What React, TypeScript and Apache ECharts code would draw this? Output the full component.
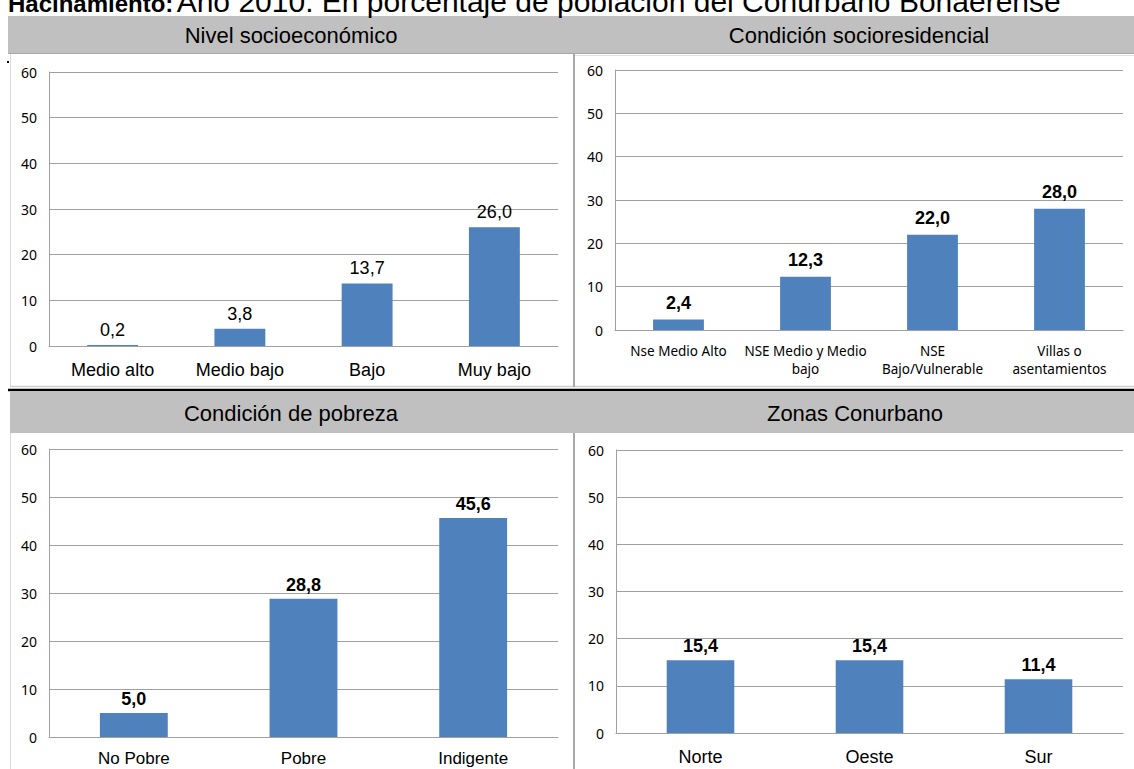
import React, { useEffect, useRef } from "react";
import * as echarts from "echarts";

const titleBold = "Hacinamiento:";
const titleRest = " Año 2010. En porcentaje de población del Conurbano Bonaerense";

const panelTitles = [
  "Nivel socioeconómico",
  "Condición socioresidencial",
  "Condición de pobreza",
  "Zonas Conurbano",
];

const nivelCategories = ["Medio alto", "Medio bajo", "Bajo", "Muy bajo"];
const nivelValues = [0.2, 3.8, 13.7, 26.0];

const residCategories = [
  "Nse Medio Alto",
  "NSE Medio y Medio\nbajo",
  "NSE\nBajo/Vulnerable",
  "Villas o\nasentamientos",
];
const residValues = [2.4, 12.3, 22.0, 28.0];

const pobrezaCategories = ["No Pobre", "Pobre", "Indigente"];
const pobrezaValues = [5.0, 28.8, 45.6];

const zonasCategories = ["Norte", "Oeste", "Sur"];
const zonasValues = [15.4, 15.4, 11.4];

const yMin = 0;
const yMax = 60;
const yStep = 10;

const BAR = "#4f81bd";
const GRID = "#a0a0a0";
const HEADER_BG = "#c0c0c0";

const fmt = (v: number) => v.toFixed(1).replace(".", ",");

export default function App() {
  const ref = useRef<HTMLDivElement>(null);

  useEffect(() => {
    if (!ref.current) return;
    const chart = echarts.init(ref.current, null, { renderer: "svg" });

    const grids = [
      { left: 49, top: 72, width: 509, height: 274 },
      { left: 615, top: 70, width: 508, height: 260 },
      { left: 49, top: 449, width: 509, height: 288 },
      { left: 616, top: 450, width: 507, height: 283 },
    ];

    const cats = [nivelCategories, residCategories, pobrezaCategories, zonasCategories];
    const vals = [nivelValues, residValues, pobrezaValues, zonasValues];
    const catFont = [
      { fontFamily: "Liberation Sans, Arial", fontSize: 18, margin: 14, lineHeight: 20 },
      { fontFamily: "Noto Sans", fontSize: 13.5, margin: 12, lineHeight: 18 },
      { fontFamily: "Liberation Sans, Arial", fontSize: 17, margin: 12, lineHeight: 19 },
      { fontFamily: "Liberation Sans, Arial", fontSize: 18, margin: 14, lineHeight: 20 },
    ];
    const valLabel = [
      { fontWeight: "normal", distance: 6 },
      { fontWeight: "bold", distance: 8 },
      { fontWeight: "bold", distance: 5 },
      { fontWeight: "bold", distance: 5 },
    ];

    const graphic: any[] = [
      // header bands
      { type: "rect", shape: { x: 8, y: 16, width: 1126, height: 37 }, style: { fill: HEADER_BG } },
      { type: "line", shape: { x1: 8, y1: 53.5, x2: 1134, y2: 53.5 }, style: { stroke: "#a8a8a8", lineWidth: 1 } },
      { type: "rect", shape: { x: 10, y: 392, width: 1124, height: 41 }, style: { fill: HEADER_BG } },
      // title (partially cut at top, as in the source)
      {
        type: "text",
        x: 8,
        y: 15,
        style: {
          text: titleBold,
          fontFamily: "Liberation Sans, Arial",
          fontSize: 24,
          fontWeight: "bold",
          fill: "#000",
          align: "left",
          verticalAlign: "bottom",
        },
      },
      {
        type: "text",
        x: 170,
        y: 16,
        style: {
          text: titleRest,
          fontFamily: "Liberation Sans, Arial",
          fontSize: 30,
          fill: "#000",
          align: "left",
          verticalAlign: "bottom",
        },
      },
      // separators
      { type: "line", shape: { x1: 10, y1: 386.5, x2: 1134, y2: 386.5 }, style: { stroke: "#cfcfcf", lineWidth: 1.5 } },
      { type: "line", shape: { x1: 8, y1: 390, x2: 1134, y2: 390 }, style: { stroke: "#000", lineWidth: 2.5 } },
      { type: "line", shape: { x1: 574, y1: 54, x2: 574, y2: 387 }, style: { stroke: "#a8a8a8", lineWidth: 2 } },
      { type: "line", shape: { x1: 574, y1: 433, x2: 574, y2: 769 }, style: { stroke: "#a8a8a8", lineWidth: 2 } },
      { type: "line", shape: { x1: 10.5, y1: 54, x2: 10.5, y2: 386 }, style: { stroke: "#dadada", lineWidth: 1 } },
      { type: "line", shape: { x1: 10.5, y1: 433, x2: 10.5, y2: 769 }, style: { stroke: "#dadada", lineWidth: 1 } },
      { type: "line", shape: { x1: 575, y1: 55.5, x2: 1134, y2: 55.5 }, style: { stroke: "#e0e0e0", lineWidth: 1 } },
      { type: "rect", shape: { x: 7, y: 61, width: 2, height: 2 }, style: { fill: "#000" } },
    ];

    const headerPos = [
      [291, 35],
      [859, 35],
      [291, 413],
      [855, 413],
    ];
    panelTitles.forEach((t, i) => {
      graphic.push({
        type: "text",
        x: headerPos[i][0],
        y: headerPos[i][1],
        style: {
          text: t,
          fontFamily: "Liberation Sans, Arial",
          fontSize: 22,
          fill: "#000",
          align: "center",
          verticalAlign: "middle",
        },
      });
    });

    const option: any = {
      animation: false,
      backgroundColor: "#fff",
      grid: grids,
      graphic,
      xAxis: grids.map((_, i) => ({
        type: "category",
        gridIndex: i,
        data: cats[i],
        axisLine: { show: true, lineStyle: { color: GRID, width: 1 } },
        axisTick: { show: false },
        axisLabel: {
          color: "#000",
          interval: 0,
          fontFamily: catFont[i].fontFamily,
          fontSize: catFont[i].fontSize,
          lineHeight: catFont[i].lineHeight,
          margin: catFont[i].margin,
        },
      })),
      yAxis: grids.map((_, i) => ({
        type: "value",
        gridIndex: i,
        min: yMin,
        max: yMax,
        interval: yStep,
        axisLine: { show: true, lineStyle: { color: GRID, width: 1 } },
        axisTick: { show: false },
        splitLine: { show: true, lineStyle: { color: GRID, width: 1 } },
        axisLabel: {
          color: "#000",
          fontFamily: "Noto Sans",
          fontSize: 14,
          margin: 12,
        },
      })),
      series: grids.map((_, i) => ({
        type: "bar",
        xAxisIndex: i,
        yAxisIndex: i,
        data: vals[i],
        barWidth: "40%",
        itemStyle: { color: BAR },
        label: {
          show: true,
          position: "top",
          distance: valLabel[i].distance,
          color: "#000",
          fontFamily: "Liberation Sans, Arial",
          fontSize: 18,
          fontWeight: valLabel[i].fontWeight,
          formatter: (p: any) => fmt(p.value),
        },
      })),
    };

    chart.setOption(option);
    return () => chart.dispose();
  }, []);

  return (
    <div
      ref={ref}
      style={{ position: "fixed", left: 0, top: 0, width: 1134, height: 769, background: "#fff" }}
    />
  );
}
